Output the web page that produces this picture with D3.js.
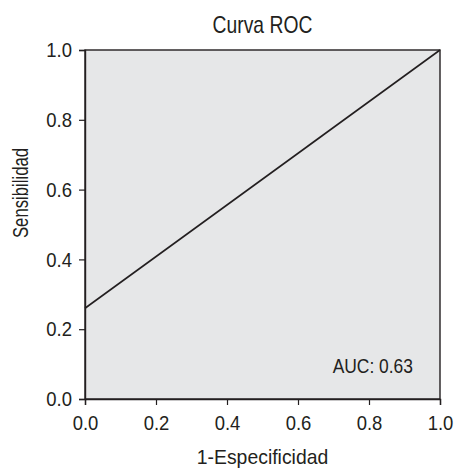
<!DOCTYPE html>
<html>
<head>
<meta charset="utf-8">
<script src="https://cdn.jsdelivr.net/npm/d3@7"></script>
<style>
  body { margin: 0; background: #fff; }
  svg { display: block; }
  .axis text { font-family: "Liberation Sans", Arial, sans-serif; font-size: 21px; fill: #231f20; }
  .lbl { font-family: "Liberation Sans", Arial, sans-serif; fill: #231f20; }
</style>
</head>
<body>
<div id="chart"></div>
<script>
// ROC curve points (1-specificity, sensitivity)
const fpr = [0, 1];
const tpr = [0.26, 1];
const ticks = [0, 0.2, 0.4, 0.6, 0.8, 1.0];
const title = "Curva ROC";
const xTitle = "1-Especificidad";
const yTitle = "Sensibilidad";
const aucLabel = "AUC: 0.63";

const width = 454, height = 468;
const margin = {top: 50, right: 14, bottom: 69, left: 85};
const w = width - margin.left - margin.right;
const h = height - margin.top - margin.bottom;

// the reference uses a condensed face, so squeeze the text horizontally
function squeeze(sel, k) {
    sel.each(function() {
        const t = d3.select(this);
        const x0 = +t.attr("x") || 0;
        const tr = t.attr("transform") || "";
        t.attr("x", x0 / k).attr("transform", `${tr} scale(${k},1)`);
    });
}

const svg = d3.select("#chart").append("svg")
    .attr("width", width)
    .attr("height", height);

const g = svg.append("g")
    .attr("transform", `translate(${margin.left},${margin.top})`);

const x = d3.scaleLinear().domain([0, 1]).range([0, w]);
const y = d3.scaleLinear().domain([0, 1]).range([h, 0]);

g.append("rect")
    .attr("width", w)
    .attr("height", h)
    .attr("fill", "#e6e7e8")
    .attr("stroke", "#231f20")
    .attr("stroke-width", 1.4);

const xAxis = g.append("g")
    .attr("class", "axis")
    .attr("transform", `translate(0,${h})`)
    .call(d3.axisBottom(x).tickValues(ticks).tickFormat(d3.format(".1f")).tickSize(6).tickPadding(10));

const yAxis = g.append("g")
    .attr("class", "axis")
    .call(d3.axisLeft(y).tickValues(ticks).tickFormat(d3.format(".1f")).tickSize(6).tickPadding(7));

[xAxis, yAxis].forEach(a => {
    a.select(".domain").attr("stroke", "#231f20").attr("stroke-width", 1.4);
    a.selectAll(".tick line").attr("stroke", "#231f20").attr("stroke-width", 1.2);
    squeeze(a.selectAll(".tick text"), 0.88);
});

const line = d3.line()
    .x(d => x(d[0]))
    .y(d => y(d[1]));

g.append("path")
    .datum(fpr.map((d, i) => [d, tpr[i]]))
    .attr("fill", "none")
    .attr("stroke", "#231f20")
    .attr("stroke-width", 1.6)
    .attr("d", line);

g.append("text")
    .attr("class", "lbl")
    .attr("x", w - 27)
    .attr("y", h - 26)
    .attr("text-anchor", "end")
    .attr("font-size", 21)
    .text(aucLabel)
    .call(squeeze, 0.83);

svg.append("text")
    .attr("class", "lbl")
    .attr("x", margin.left + w / 2)
    .attr("y", 33)
    .attr("text-anchor", "middle")
    .attr("font-size", 23)
    .text(title)
    .call(squeeze, 0.84);

svg.append("text")
    .attr("class", "lbl")
    .attr("x", margin.left + w / 2)
    .attr("y", 464)
    .attr("text-anchor", "middle")
    .attr("font-size", 20)
    .text(xTitle)
    .call(squeeze, 0.97);

svg.append("text")
    .attr("class", "lbl")
    .attr("transform", "translate(28,193) rotate(-90)")
    .attr("text-anchor", "middle")
    .attr("font-size", 22)
    .text(yTitle)
    .call(squeeze, 0.76);
</script>
</body>
</html>
